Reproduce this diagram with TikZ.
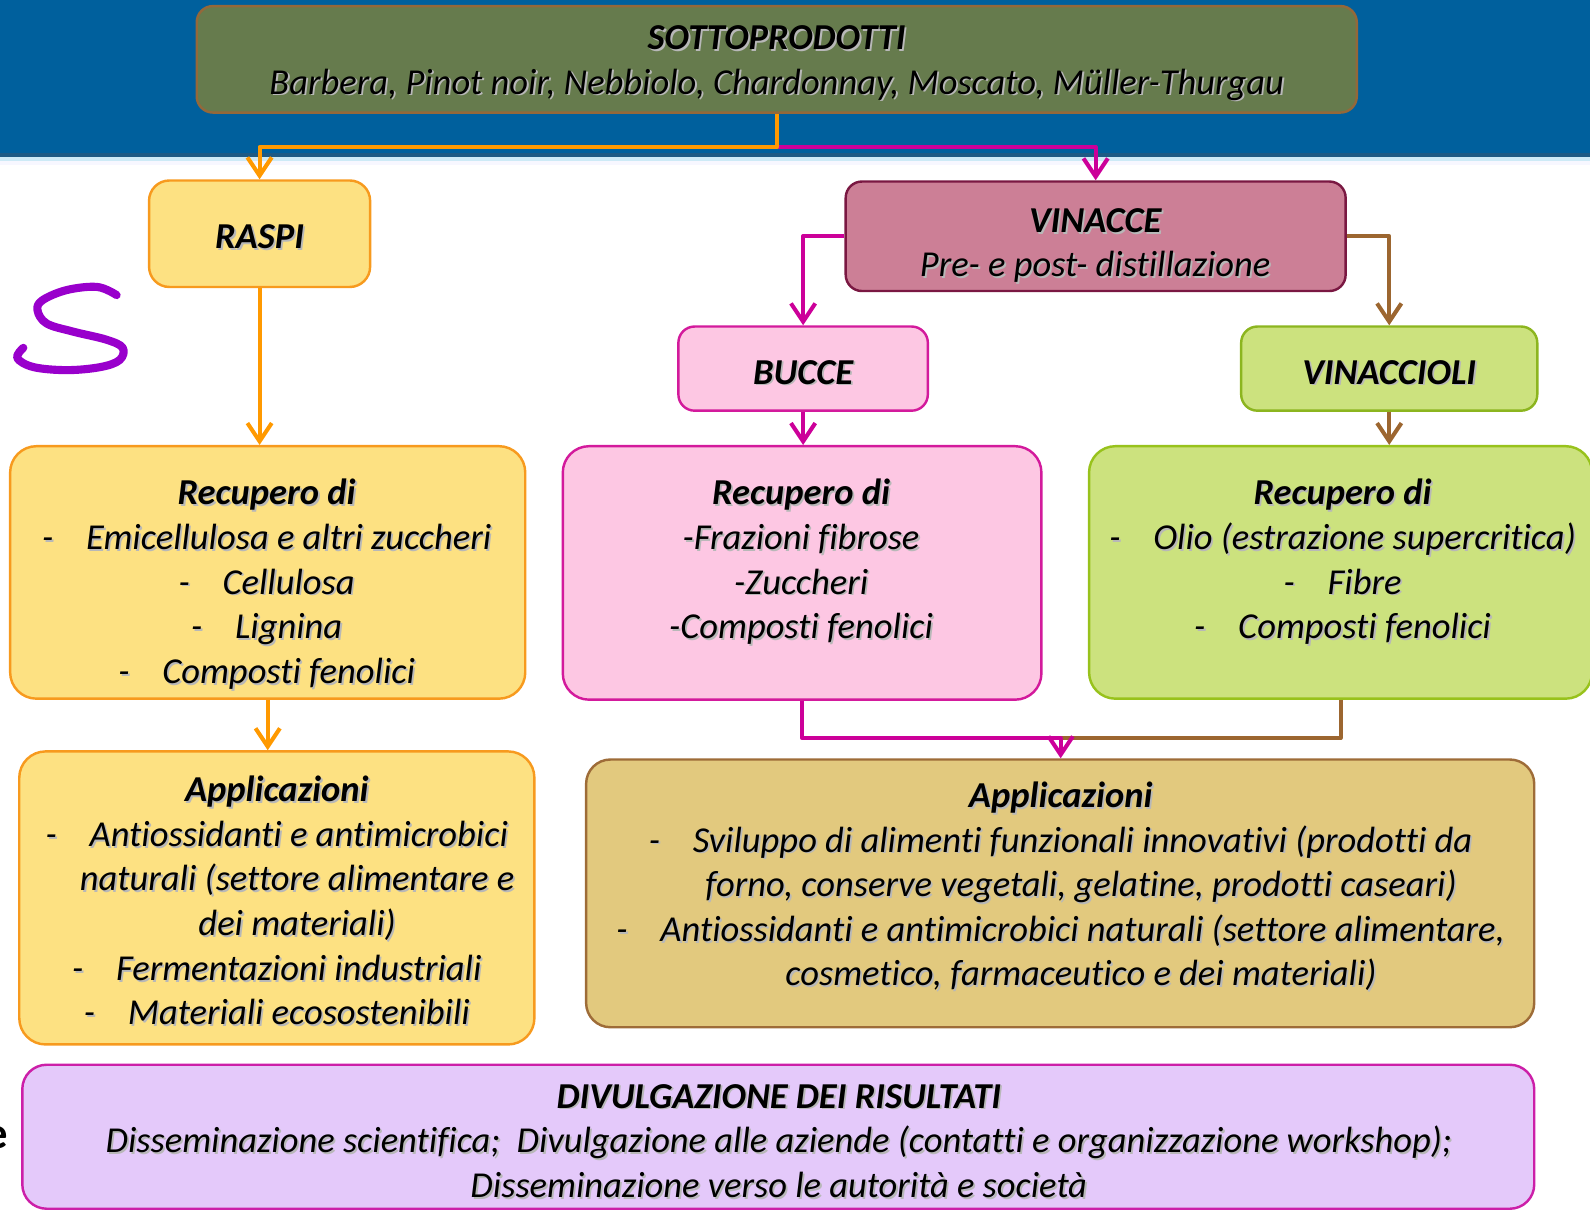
\documentclass[tikz,border=0pt]{standalone}
\usepackage{fontspec}
\setmainfont{Carlito}[Ligatures={NoCommon}]
\usetikzlibrary{arrows.meta}
\definecolor{bluebg}{HTML}{00609D}
\definecolor{bluedk}{HTML}{1D5A84}
\definecolor{bluelt}{HTML}{CDEAF6}
\definecolor{olivef}{HTML}{667B4D}
\definecolor{oliveb}{HTML}{94683A}
\definecolor{rfill}{HTML}{FDE182}
\definecolor{rdraw}{HTML}{F79A1E}
\definecolor{vfill}{HTML}{CC7F96}
\definecolor{vdraw}{HTML}{7A1842}
\definecolor{bfill}{HTML}{FDC7E3}
\definecolor{bdraw}{HTML}{D31A9C}
\definecolor{gfill}{HTML}{CCE27E}
\definecolor{gdraw}{HTML}{8CB51F}
\definecolor{gdrawb}{HTML}{98C21C}
\definecolor{afill}{HTML}{E2C97E}
\definecolor{adraw}{HTML}{9E6C38}
\definecolor{dfill}{HTML}{E4C9FA}
\definecolor{ddraw}{HTML}{CC1FA8}
\definecolor{corange}{HTML}{FF9900}
\definecolor{cmag}{HTML}{CC0099}
\definecolor{cbrown}{HTML}{9C6630}
\definecolor{spurple}{HTML}{9900CC}
\newcommand\shd[1]{\makebox[0pt][l]{\kern0.9pt\raisebox{-0.9pt}{\textcolor{black!28}{#1}}}#1}
\tikzset{
  boxshape/.style={line width=1.2pt, inner sep=0pt},
  txt/.style={align=center, inner sep=0pt, font=\fontsize{18}{22}\selectfont\itshape},
  conn/.style={line width=2pt, line join=round, -{Straight Barb[length=9pt,width=12pt]}},
}
\begin{document}
\begin{tikzpicture}[x=0.5pt,y=-0.5pt]
\useasboundingbox (0,0) rectangle (1568,1194);
% background band
\fill[bluebg] (0,0) rectangle (1568,151);
\fill[bluedk] (0,151) rectangle (1568,155);
\fill[bluelt] (0,155) rectangle (1568,159);
\fill[blue!3!white] (0,159) rectangle (1568,163);

% boxes
\node[boxshape, draw=oliveb, fill=olivef, rounded corners=8pt, minimum width=572pt, minimum height=52.5pt] (top) at (766,58.5) {};
\node[boxshape, draw=rdraw, fill=rfill, rounded corners=10pt, minimum width=109pt, minimum height=52.5pt] (raspi) at (256,230.5) {};
\node[boxshape, draw=vdraw, fill=vfill, rounded corners=8pt, minimum width=246.5pt, minimum height=54pt] (vin) at (1080.5,233) {};
\node[boxshape, draw=bdraw, fill=bfill, rounded corners=8pt, minimum width=123pt, minimum height=41.5pt] (bucce) at (792,363.5) {};
\node[boxshape, draw=gdraw, fill=gfill, rounded corners=8pt, minimum width=146pt, minimum height=41.5pt] (vinac) at (1370,363.5) {};
\node[boxshape, draw=rdraw, fill=rfill, rounded corners=13pt, minimum width=254pt, minimum height=124.5pt] (recl) at (264,564.5) {};
\node[boxshape, draw=bdraw, fill=bfill, rounded corners=13pt, minimum width=236pt, minimum height=125pt] (recm) at (791,565) {};
\node[boxshape, draw=gdrawb, fill=gfill, rounded corners=13pt, minimum width=248pt, minimum height=124.5pt] (recr) at (1322,564.5) {};
\node[boxshape, draw=rdraw, fill=rfill, rounded corners=13pt, minimum width=254pt, minimum height=144.5pt] (appl) at (273,885.5) {};
\node[boxshape, draw=adraw, fill=afill, rounded corners=12pt, minimum width=467.5pt, minimum height=132pt] (appr) at (1045.5,881) {};
\node[boxshape, draw=ddraw, fill=dfill, rounded corners=12pt, minimum width=745.5pt, minimum height=71pt] (div) at (767.5,1121) {};

% texts
\node[txt] (ttop) at (766,63) {\shd{\textbf{SOTTOPRODOTTI}}\\\shd{Barbera, Pinot noir, Nebbiolo, Chardonnay, Moscato, Müller-Thurgau}};
\node[txt] (traspi) at (256,234) {\shd{\textbf{RASPI}}};
\node[txt] (tvin) at (1080,243) {\shd{\textbf{VINACCE}}\\\shd{Pre- e post- distillazione}};
\node[txt] (tbucce) at (792,368) {\shd{\textbf{BUCCE}}};
\node[txt] (tvinac) at (1370,368) {\shd{\textbf{VINACCIOLI}}};
\node[txt] (trecl) at (263,577) {\shd{\textbf{Recupero di}}\\
  \shd{-\hspace{0.9em}Emicellulosa e altri zuccheri}\\
  \shd{-\hspace{0.9em}Cellulosa}\\
  \shd{-\hspace{0.9em}Lignina}\\
  \shd{-\hspace{0.9em}Composti fenolici}};
\node[txt] (trecm) at (790,555) {\shd{\textbf{Recupero di}}\\
  \shd{-Frazioni fibrose}\\
  \shd{-Zuccheri}\\
  \shd{-Composti fenolici}};
\node[txt] (trecr) at (1324,555) {\shd{\textbf{Recupero di}}\\
  \shd{-\hspace{0.9em}Olio (estrazione supercritica)}\\
  \shd{-\hspace{0.9em}Fibre}\\
  \shd{-\hspace{0.9em}Composti fenolici}};
\node[txt] (tappl) at (273,889) {\shd{\textbf{Applicazioni}}\\
  \shd{-\hspace{0.9em}Antiossidanti e antimicrobici}\\
  \hspace*{20pt}\shd{naturali (settore alimentare e}\\
  \hspace*{20pt}\shd{dei materiali)}\\
  \shd{-\hspace{0.9em}Fermentazioni industriali}\\
  \shd{-\hspace{0.9em}Materiali ecosostenibili}};
\node[txt] (tappr) at (1046,875) {\shd{\textbf{Applicazioni}}\\
  \shd{-\hspace{0.9em}Sviluppo di alimenti funzionali innovativi (prodotti da}\\
  \hspace*{20pt}\shd{forno, conserve vegetali, gelatine, prodotti caseari)}\\
  \shd{-\hspace{0.9em}Antiossidanti e antimicrobici naturali (settore alimentare,}\\
  \hspace*{20pt}\shd{cosmetico, farmaceutico e dei materiali)}};
\node[txt] (tdiv) at (768,1126) {\shd{\textbf{DIVULGAZIONE DEI RISULTATI}}\\
  \shd{Disseminazione scientifica;~ Divulgazione alle aziende (contatti e organizzazione workshop);}\\
  \shd{Disseminazione verso le autorità e società}};

% connectors
\coordinate (j1) at (766,145);
\coordinate (j2) at (1046,728);
\draw[conn, cmag] (j1) -| (vin.north);
\draw[conn, corange] (top.south) -- (j1) -| (raspi.north);
\draw[conn, corange] (raspi.south) -- (raspi.south |- recl.north);
\draw[conn, corange] (recl.south) -- (recl.south |- appl.north);
\draw[conn, cmag] (vin.west) -| (bucce.north);
\draw[conn, cbrown] (vin.east) -| (vinac.north);
\draw[conn, cmag] (bucce.south) -- (bucce.south |- recm.north);
\draw[conn, cbrown] (vinac.south) -- (vinac.south |- recr.north);
\draw[cbrown, line width=2pt, line join=round] (recr.south) |- (j2);
\draw[conn, cmag] (recm.south) |- (j2) -- (j2 |- appr.north);

% handwritten S
\draw[spurple, line width=4pt, line cap=round, line join=round]
  plot[smooth, tension=0.6] coordinates {(115,291) (96,283) (66,286) (42,296) (37,306) (46,319) (72,327) (105,335) (121,343) (118,355) (99,362) (66,365) (33,362) (17,353) (23,343)};

% cut-off letter at left edge
\node[anchor=east, inner sep=0pt, font=\fontsize{22}{22}\selectfont\bfseries] (frag) at (8,1122) {e};
\end{tikzpicture}
\end{document}
